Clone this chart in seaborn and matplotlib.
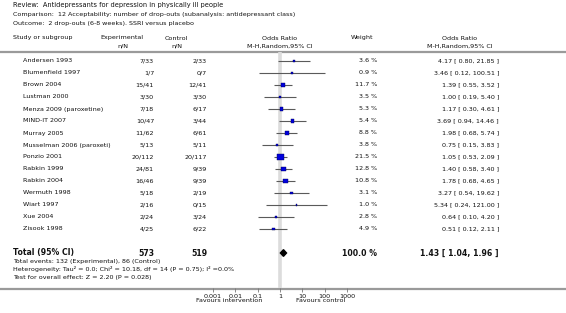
import numpy as np
import pandas as pd
import seaborn as sns
import matplotlib.pyplot as plt

sns.set_theme(style="white")
plt.rcParams['font.family'] = ['DejaVu Sans']

# Study data
studies = ["Andersen 1993", "Blumenfield 1997", "Brown 2004", "Lustman 2000",
           "Menza 2009 (paroxetine)", "MIND-IT 2007", "Murray 2005",
           "Musselman 2006 (paroxeti)", "Ponzio 2001", "Rabkin 1999",
           "Rabkin 2004", "Wermuth 1998", "Wiart 1997", "Xue 2004", "Zisook 1998"]
exp_nN = ["7/33", "1/7", "15/41", "3/30", "7/18", "10/47", "11/62", "5/13",
          "20/112", "24/81", "16/46", "5/18", "2/16", "2/24", "4/25"]
ctl_nN = ["2/33", "0/7", "12/41", "3/30", "6/17", "3/44", "6/61", "5/11",
          "20/117", "9/39", "9/39", "2/19", "0/15", "3/24", "6/22"]
weights = [3.6, 0.9, 11.7, 3.5, 5.3, 5.4, 8.8, 3.8, 21.5, 12.8, 10.8, 3.1, 1.0, 2.8, 4.9]
odds = [4.17, 3.46, 1.39, 1.00, 1.17, 3.69, 1.98, 0.75, 1.05, 1.40, 1.78, 3.27, 5.34, 0.64, 0.51]
ci_lo = [0.80, 0.12, 0.55, 0.19, 0.30, 0.94, 0.68, 0.15, 0.53, 0.58, 0.68, 0.54, 0.24, 0.10, 0.12]
ci_hi = [21.85, 100.51, 3.52, 5.40, 4.61, 14.46, 5.74, 3.83, 2.09, 3.40, 4.65, 19.62, 121.00, 4.20, 2.11]

total_exp, total_ctl = 573, 519
total_weight = 100.0
total_or, total_lo, total_hi = 1.43, 1.04, 1.96
axis_ticks = [0.001, 0.01, 0.1, 1, 10, 100, 1000]
axis_labels = ["0.001", "0.01", "0.1", "1", "10", "100", "1000"]

df = pd.DataFrame({"study": studies, "exp": exp_nN, "ctl": ctl_nN, "weight": weights,
                   "ratio": odds, "lo": ci_lo, "hi": ci_hi})
df["row"] = np.arange(len(df))
total_row = len(df) + 1

W, H = 566, 313
fig = plt.figure(figsize=(W / 100, H / 100), dpi=100)

# text layer in pixel coordinates
tx = fig.add_axes([0, 0, 1, 1])
tx.set_xlim(0, W)
tx.set_ylim(H, 0)
tx.axis("off")

# forest panel: rows 0..n, log odds ratio scale
top_px, bot_px, row0_px, step = 52, 288, 61, 12
ax = fig.add_axes([213 / W, 1 - bot_px / H, 134 / W, (bot_px - top_px) / H])
ax.set_facecolor("none")
ax.set_xscale("log")
ax.set_xlim(1e-3, 1e3)
ax.set_ylim((bot_px - row0_px) / step, (top_px - row0_px) / step)
for s in ax.spines.values():
    s.set_visible(False)

fs = 4.6
dark = "#111111"

def row_y(i):
    return row0_px + step * i

# headers
tx.text(13, 5, "Review:  Antidepressants for depression in physically ill people",
        fontsize=4.8, va="center", color=dark)
tx.text(13, 14.5, "Comparison:  12 Acceptability: number of drop-outs (subanalysis: antidepressant class)",
        fontsize=fs, va="center", color=dark)
tx.text(13, 24, "Outcome:  2 drop-outs (6-8 weeks). SSRI versus placebo",
        fontsize=fs, va="center", color=dark)
tx.text(13, 38, "Study or subgroup", fontsize=fs, va="center", color=dark)
tx.text(122, 38, "Experimental", fontsize=fs, va="center", ha="center", color=dark)
tx.text(123, 46, "n/N", fontsize=fs, va="center", ha="center", color=dark)
tx.text(176, 38, "Control", fontsize=fs, va="center", ha="center", color=dark)
tx.text(177, 46, "n/N", fontsize=fs, va="center", ha="center", color=dark)
tx.text(280, 38, "Odds Ratio", fontsize=fs, va="center", ha="center", color=dark)
tx.text(280, 46, "M-H,Random,95% CI", fontsize=fs, va="center", ha="center", color=dark)
tx.text(362, 38, "Weight", fontsize=fs, va="center", ha="center", color=dark)
tx.text(460, 38, "Odds Ratio", fontsize=fs, va="center", ha="center", color=dark)
tx.text(460, 46, "M-H,Random,95% CI", fontsize=fs, va="center", ha="center", color=dark)
tx.plot([0, W], [51.5, 51.5], color="#9a9a9a", lw=1.6)
tx.plot([0, W], [288.5, 288.5], color="#9a9a9a", lw=1.6)

# study rows
for r in df.itertuples():
    y = row_y(r.row)
    tx.text(23, y, r.study, fontsize=fs, va="center", color=dark)
    tx.text(154, y, r.exp, fontsize=fs, va="center", ha="right", color=dark)
    tx.text(207, y, r.ctl, fontsize=fs, va="center", ha="right", color=dark)
    tx.text(377, y, f"{r.weight:.1f} %", fontsize=fs, va="center", ha="right", color=dark)
    tx.text(499, y, f"{r.ratio:.2f} [ {r.lo:.2f}, {r.hi:.2f} ]", fontsize=fs,
            va="center", ha="right", color=dark)

# total row
yt = row_y(total_row)
tx.text(13, yt, "Total (95% CI)", fontsize=5.6, va="center", fontweight="bold", color=dark)
tx.text(154, yt, str(total_exp), fontsize=5.6, va="center", ha="right", fontweight="bold", color=dark)
tx.text(207, yt, str(total_ctl), fontsize=5.6, va="center", ha="right", fontweight="bold", color=dark)
tx.text(377, yt, f"{total_weight:.1f} %", fontsize=5.6, va="center", ha="right", fontweight="bold", color=dark)
tx.text(499, yt, f"{total_or:.2f} [ {total_lo:.2f}, {total_hi:.2f} ]", fontsize=5.6,
        va="center", ha="right", fontweight="bold", color=dark)
tx.text(13, 261, "Total events: 132 (Experimental), 86 (Control)", fontsize=fs, va="center", color=dark)
tx.text(13, 269, "Heterogeneity: Tau\u00b2 = 0.0; Chi\u00b2 = 10.18, df = 14 (P = 0.75); I\u00b2 =0.0%",
        fontsize=fs, va="center", color=dark)
tx.text(13, 277, "Test for overall effect: Z = 2.20 (P = 0.028)", fontsize=fs, va="center", color=dark)

tx.text(262, 301, "Favours intervention", fontsize=fs, va="center", ha="right", color=dark)
tx.text(296, 301, "Favours control", fontsize=fs, va="center", ha="left", color=dark)

# forest marks
ax.axvline(1, color="#dcdcdc", lw=2.6, zorder=0)
ax.hlines(df["row"], df["lo"], df["hi"], color="#5a5a5a", lw=0.8, zorder=2)
sns.scatterplot(data=df, x="ratio", y="row", size="weight", sizes=(0.8, 19.5),
                marker="s", color="#0000dd", edgecolor="#000055", linewidth=0.3,
                legend=False, ax=ax, zorder=3)
ax.fill([total_lo, total_or, total_hi, total_or],
        [total_row, total_row - 0.28, total_row, total_row + 0.28],
        color="black", zorder=3)

ax.set_xticks(axis_ticks)
ax.set_xticklabels(axis_labels, fontsize=fs, color=dark)
ax.minorticks_off()
ax.tick_params(axis="x", bottom=True, length=3, width=0.6, color="#777777", pad=1.2)
ax.set_yticks([])
ax.set_xlabel("")
ax.set_ylabel("")

fig.savefig("out.png", dpi=100)
